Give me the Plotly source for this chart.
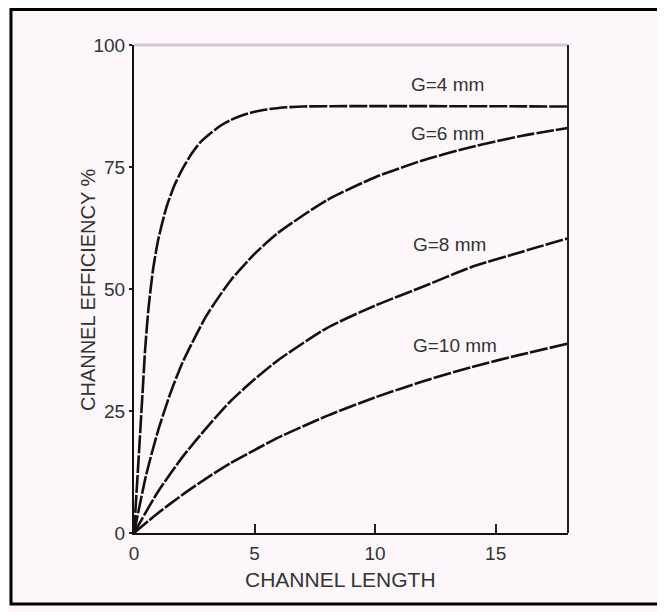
import plotly.graph_objects as go

# ---- data ----
x_g4 = [0, 0.17, 0.37, 0.46, 0.6, 0.79, 1.0, 1.36, 1.7, 2.0, 2.4, 2.74, 3.2, 3.6, 4.0, 4.5, 5.0, 5.5, 6.0, 7.0, 18.0]
y_g4 = [0, 13.5, 30, 37.5, 46, 54, 60, 67, 71.5, 74.5, 77.8, 80, 82, 83.5, 84.6, 85.6, 86.3, 86.8, 87.1, 87.4, 87.4]

x_g6 = [0, 0.5, 1, 1.5, 2, 3, 4, 5, 6, 8, 10, 12, 14, 16, 18]
y_g6 = [0, 11.8, 21, 28.5, 34.8, 44.5, 51.7, 57.2, 61.6, 68.2, 72.9, 76.4, 79.1, 81.3, 83]

x_g8 = [0, 1, 2, 3, 4, 5, 6, 8, 10, 12, 14, 16, 18]
y_g8 = [0, 8.5, 15.5, 21.5, 27, 31.5, 35.5, 42, 46.6, 50.5, 54.5, 57.5, 60.4]

x_g10 = [0, 1, 2, 3, 4, 5, 6, 8, 10, 12, 14, 16, 18]
y_g10 = [0, 4.1, 7.8, 11.2, 14.3, 17, 19.6, 24, 27.8, 31.1, 34, 36.5, 38.8]

curve_labels = ["G=4 mm", "G=6 mm", "G=8 mm", "G=10 mm"]
label_x = [13.0, 13.0, 13.1, 13.3]
label_y = [92.0, 81.8, 59.2, 38.5]

x_ticks = [0, 5, 10, 15]
y_ticks = [0, 25, 50, 75, 100]
y_ticktext = ["0", "25", "50", "75", "100"]

x_title = "CHANNEL LENGTH"
y_title = "CHANNEL EFFICIENCY %"

# ---- layout geometry (page pixels; the page body adds an 8px offset) ----
OFF = 8
W, H = 665 - OFF, 612 - OFF
L, R, T, B = 134 - OFF, 568 - OFF, 45 - OFF, 533 - OFF
FONT = "Liberation Sans, Arial, sans-serif"
TXT = "#333333"
BG = "#fdf7fc"


def px(xp):
    return (xp - OFF - L) / (R - L)


def py(yp):
    return (B - (yp - OFF)) / (B - T)


fig = go.Figure()
for xs, ys in [(x_g4, y_g4), (x_g6, y_g6), (x_g8, y_g8), (x_g10, y_g10)]:
    fig.add_trace(go.Scatter(x=xs, y=ys, mode="lines",
                             line=dict(color="#111111", width=2.6, shape="spline", smoothing=0.6, dash="18px,2px"),
                             showlegend=False, hoverinfo="skip"))

for t, xv, yv in zip(curve_labels, label_x, label_y):
    fig.add_annotation(x=xv, y=yv, text=t, showarrow=False, font=dict(family=FONT, size=19, color=TXT),
                       xanchor="center", yanchor="middle")

# axis titles
fig.add_annotation(xref="paper", yref="paper", x=px(340), y=py(579), text=x_title, showarrow=False,
                   font=dict(family=FONT, size=21, color=TXT), xanchor="center", yanchor="middle")
fig.add_annotation(xref="paper", yref="paper", x=px(88), y=py(290), text=y_title, showarrow=False, textangle=-90,
                   font=dict(family=FONT, size=20, color=TXT), xanchor="center", yanchor="middle")

shapes = [
    # outer frame
    dict(type="rect", xref="paper", yref="paper", x0=px(11), x1=px(659), y0=py(604), y1=py(9.5),
         line=dict(color="#000000", width=3), layer="below"),
    # top light line at 100
    dict(type="line", xref="paper", yref="paper", x0=0, x1=1, y0=1, y1=1, line=dict(color="#d8c6d3", width=3)),
    # right border
    dict(type="line", xref="paper", yref="paper", x0=1, x1=1, y0=0, y1=1, line=dict(color="#222222", width=2)),
]

fig.update_layout(
    width=W, height=H,
    margin=dict(l=L, r=W - R, t=T, b=H - B, pad=0),
    paper_bgcolor=BG, plot_bgcolor=BG,
    shapes=shapes,
    xaxis=dict(range=[0, 18], tickvals=x_ticks, ticks="inside", ticklen=9, tickwidth=2, tickcolor="#222222",
               showgrid=False, zeroline=False, showline=True, linecolor="#111111", linewidth=2,
               tickfont=dict(family=FONT, size=19, color=TXT), ticklabelstandoff=2),
    yaxis=dict(range=[0, 100], tickvals=y_ticks, ticktext=y_ticktext, ticks="outside", ticklen=3, tickwidth=2,
               tickcolor="#222222", showgrid=False, zeroline=False, showline=True, linecolor="#111111", linewidth=2,
               tickfont=dict(family=FONT, size=19, color=TXT), ticklabelstandoff=0),
)

fig.write_html("out.html")
